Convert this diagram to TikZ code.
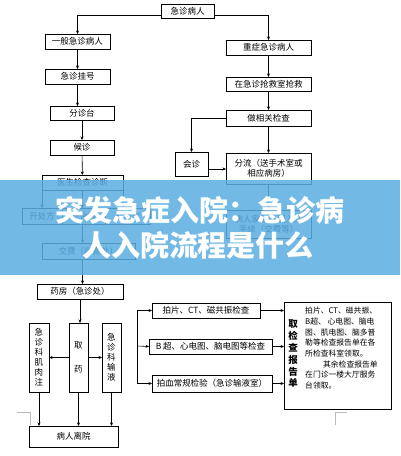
\documentclass[tikz,border=0pt]{standalone}
\usepackage{fontspec}
\usepackage{tikz}
\usetikzlibrary{arrows.meta,positioning,calc,backgrounds}
\newfontfamily\cjk{Noto Sans CJK SC}
\definecolor{bannerblue}{HTML}{5BAEE3}
\definecolor{markgray}{HTML}{BBBBBB}

\begin{document}
\begin{tikzpicture}[
  x=1pt, y=-1pt,
  font=\cjk,
  >={Stealth[length=3.5pt,width=3pt]},
  flowbox/.style={
    draw,
    fill=white,
    line width=0.6pt,
    inner sep=1pt,
    outer sep=0pt,
    align=center,
    anchor=north west,
    font=\cjk\fontsize{8.5}{10}\selectfont
  },
  tallbox/.style={
    flowbox,
    text width=10pt,
    minimum width=20pt,
    minimum height=69pt
  },
  flowarrow/.style={
    ->,
    line width=0.6pt
  },
  bannertext/.style={
    text=white,
    font=\cjk\bfseries\fontsize{29}{32}\selectfont
  }
]
  \useasboundingbox (0,0) rectangle (400,456);
  \fill[white] (0,0) rectangle (400,456);

  % -------------------------------------------------------------
  % TOP: ARRIVAL
  % -------------------------------------------------------------
  \node[flowbox, minimum width=53pt, minimum height=14pt] (arrive) at (161,4) {急诊病人};

  % -------------------------------------------------------------
  % LEFT COLUMN: ORDINARY PATIENTS
  % -------------------------------------------------------------
  \node[flowbox, minimum width=65pt, minimum height=15pt] (ordinary) at (45,34) {一般急诊病人};
  \node[flowbox, minimum width=65pt, minimum height=15pt] (register) at (45,69) {急诊挂号};
  \node[flowbox, minimum width=64pt, minimum height=14pt] (triage) at (50,106) {分诊台};
  \node[flowbox, minimum width=64pt, minimum height=15pt] (waiting) at (50,140) {候诊};
  \node[flowbox, minimum width=81pt, minimum height=15pt] (diagnose) at (42,175) {医生检查诊断};

  % three orders from the doctor
  \node[flowbox, minimum width=40pt, minimum height=16pt] (prescribe) at (22,208) {开处方};
  \node[flowbox, minimum width=43pt, minimum height=16pt] (labtest) at (62,208) {开化验};
  \node[flowbox, minimum width=45pt, minimum height=16pt] (examorder) at (105,208) {开检查};

  \node[flowbox, minimum width=93pt, minimum height=16pt] (payment) at (42,243) {交费（收费处）};
  \node[flowbox, minimum width=86pt, minimum height=15pt] (pharmacy) at (37,284) {药房（急诊处）};

  \node[tallbox] (inject) at (29,323) {急\\诊\\科\\肌\\肉\\注};
  \node[tallbox, minimum width=19pt] (takemed) at (69,323) {取\\[14pt]药};
  \node[tallbox, minimum width=19pt] (infusion) at (102,323) {急\\诊\\科\\输\\液\\[8pt]};

  \node[flowbox, minimum width=89pt, minimum height=21pt] (leave) at (29,426) {病人离院};

  % -------------------------------------------------------------
  % MIDDLE: EXAMINATIONS AND REPORTS
  % -------------------------------------------------------------
  \node[flowbox, minimum width=108pt, minimum height=15pt] (imaging) at (152,303) {拍片、CT、磁共振检查};
  \node[flowbox, minimum width=123pt, minimum height=15pt] (ultrasound) at (149,339) {B 超、心电图、脑电图等检查};
  \node[flowbox, minimum width=120pt, minimum height=17pt] (bloodtest) at (152,375) {拍血常规检验（急诊输液室）};
  \coordinate (examsplit) at (137,346);

  \node[flowbox, minimum width=107pt, minimum height=107pt] (report) at (284,302) {};
  \node[font=\cjk\bfseries\fontsize{9.5}{11.8}\selectfont, align=center, inner sep=0pt] (reporttitle) at (293,354) {取\\检\\查\\报\\告\\单};
  \node[font=\cjk\fontsize{7.8}{10.7}\selectfont, align=left, anchor=north west, inner sep=1pt] (reportnote) at (304,306) {
    拍片、CT、磁共振、\\
    B超、 心电图、脑电\\
    图、肌电图、脑多普\\
    勒等检查报告单在各\\
    所检查科室领取。\\
    \hspace*{2.3em}其余检查报告单\\
    在门诊一楼大厅服务\\
    台领取。};

  % -------------------------------------------------------------
  % RIGHT COLUMN: SEVERE PATIENTS
  % -------------------------------------------------------------
  \node[flowbox, minimum width=85pt, minimum height=15pt] (severe) at (226,40) {重症急诊病人};
  \node[flowbox, minimum width=85pt, minimum height=14pt] (rescue) at (226,77) {在急诊抢救室抢救};
  \node[flowbox, minimum width=85pt, minimum height=16pt] (relcheck) at (226,110) {做相关检查};
  \node[flowbox, minimum width=33pt, minimum height=24pt] (consult) at (175,152) {会诊};
  \node[flowbox, minimum width=85pt, minimum height=31pt] (transfer) at (226,153) {分流（送手术室或\\相应病房）};
  \node[flowbox, minimum width=85pt, minimum height=28pt] (admit) at (226,210) {病人家属办理入院\\手续（交费等）};

  % Connecting Arrows
  \draw[flowarrow] ([yshift=-4pt]arrive.west) -| (ordinary.north);
  \draw[flowarrow] ([yshift=-4pt]arrive.east) -| (severe.north);

  \draw[flowarrow] (ordinary) -- (register);
  \draw[flowarrow] (register.south) -- (register.south |- triage.north);
  \draw[flowarrow] (triage) -- (waiting);
  \draw[flowarrow] (waiting) -- (diagnose);
  \draw[flowarrow] (diagnose.south west) -- (diagnose.south west |- prescribe.north);
  \draw[flowarrow] (diagnose.south) -- (diagnose.south |- labtest.north);
  \draw[flowarrow] (diagnose.south east) -- (diagnose.south east |- examorder.north);
  \draw[flowarrow] (labtest.south -| diagnose.south) -- (diagnose.south |- payment.north);
  \draw[flowarrow] (payment.south -| diagnose.south) -- (diagnose.south |- pharmacy.north);
  \draw[flowarrow] (pharmacy.south) -- (pharmacy.south |- takemed.north);
  \draw[flowarrow] (takemed.west) -- (inject.east);
  \draw[flowarrow] (takemed.east) -- (infusion.west);
  \draw[flowarrow] (inject.south) -- (inject.south |- leave.north);
  \draw[flowarrow] (takemed.south) -- (takemed.south |- leave.north);
  \draw[flowarrow] (infusion.south) -- (infusion.south |- leave.north);

  \begin{scope}[on background layer]
    \draw[flowarrow] (examorder.south) |- (examsplit);
  \end{scope}
  \draw[flowarrow] (examsplit) |- (imaging.west);
  \draw[flowarrow] (examsplit) -- (ultrasound.west);
  \draw[flowarrow] (examsplit) |- (bloodtest.west);
  \draw[flowarrow] (imaging.east) -- (imaging.east -| report.west);
  \draw[flowarrow] (ultrasound.east) -- (ultrasound.east -| report.west);
  \draw[flowarrow] (bloodtest.east) -- (bloodtest.east -| report.west);

  \draw[flowarrow] (severe) -- (rescue);
  \draw[flowarrow] (rescue) -- (relcheck);
  \draw[flowarrow] (relcheck) -- (transfer);
  \draw[flowarrow] (relcheck.west) -| (consult.north);
  \draw[flowarrow] ([yshift=-5pt]consult.east) -- ([yshift=-5pt]consult.east -| transfer.west);
  \draw[flowarrow] (transfer) -- (admit);

  % faint marks
  \draw[markgray, line width=0.5pt] (17,412) -- (30,412) -- (30,425);
  \draw[markgray, line width=0.5pt] (335,425) -- (335,412) -- (347,412);

  % -------------------------------------------------------------
  % TITLE BANNER
  % -------------------------------------------------------------
  \fill[bannerblue, fill opacity=0.86] (0,180) rectangle (400,275);
  \node[bannertext] (bannerone) at (200,210) {突发急症入院：急诊病};
  \node[bannertext] (bannertwo) at (198,245) {人入院流程是什么};

\end{tikzpicture}
\end{document}
